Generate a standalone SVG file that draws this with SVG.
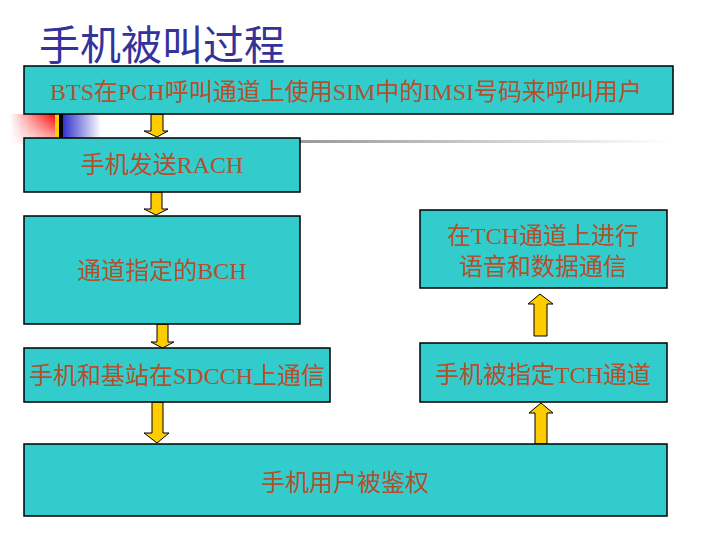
<svg xmlns="http://www.w3.org/2000/svg" width="720" height="540" viewBox="0 0 720 540">
<style>
.box{fill:#33CCCC;stroke:#000;stroke-width:1.5}
.t{font-family:"Liberation Serif","Noto Sans CJK SC",serif;font-size:24px;fill:#b4502c;text-anchor:middle}
.arr{fill:#FFCC00;stroke:#000;stroke-width:1}
.title{font-family:"Noto Sans CJK SC",sans-serif;font-size:41px;fill:#333399}
</style>
<defs>
<linearGradient id="red" x1="0" y1="0" x2="1" y2="0">
<stop offset="0" stop-color="#ff0000" stop-opacity="0"/>
<stop offset="1" stop-color="#ff0000"/>
</linearGradient>
<linearGradient id="blue" x1="0" y1="0" x2="1" y2="0">
<stop offset="0" stop-color="#3333cc"/>
<stop offset="1" stop-color="#3333cc" stop-opacity="0"/>
</linearGradient>
<linearGradient id="grey" x1="0" y1="0" x2="1" y2="0">
<stop offset="0" stop-color="#999999"/>
<stop offset="1" stop-color="#ffffff"/>
</linearGradient>
<linearGradient id="fadeV" x1="0" y1="0" x2="0" y2="1">
<stop offset="0" stop-color="#fff" stop-opacity="0"/>
<stop offset="1" stop-color="#fff" stop-opacity="0.8"/>
</linearGradient>
</defs>
<rect width="720" height="540" fill="#fff"/>
<g id="decor">
<rect x="10" y="114" width="45" height="30" fill="url(#red)"/>
<rect x="10" y="114" width="45" height="30" fill="url(#fadeV)"/>
<rect x="55" y="114" width="4" height="24" fill="#FFCC00"/>
<rect x="59" y="114" width="4" height="24" fill="#000"/>
<rect x="63" y="114" width="38" height="24" fill="url(#blue)"/>
<rect x="300" y="140" width="370" height="3" fill="url(#grey)"/>
</g>
<text class="title" x="39" y="60">手机被叫过程</text>
<g id="connectors">
<polygon class="arr" points="151,114 163,114 163,131 168,131 157,137 144,131 151,131"/>
<polygon class="arr" points="151,192 162,192 162,209 168,209 156,215 144,209 151,209"/>
<polygon class="arr" points="157,324 168,324 168,342 174,342 162.5,348 151,342 157,342"/>
<polygon class="arr" points="152,402 163,402 163,433 169,433 157,443 144,433 152,433"/>
<polygon class="arr" points="534,336 547,336 547,304 553,304 540,294 528,304 534,304"/>
<polygon class="arr" points="535,444 547,444 547,413 553,413 541,403 529,413 535,413"/>
</g>
<g id="n1"><rect class="box" x="24" y="66" width="649" height="48"/><text class="t" x="346" y="100">BTS在PCH呼叫通道上使用SIM中的IMSI号码来呼叫用户</text></g>
<g id="n2"><rect class="box" x="24" y="138" width="276" height="54"/><text class="t" x="162" y="173">手机发送RACH</text></g>
<g id="n3"><rect class="box" x="24" y="216" width="276" height="108"/><text class="t" x="162" y="279">通道指定的BCH</text></g>
<g id="n4"><rect class="box" x="24" y="348" width="306" height="54"/><text class="t" x="177" y="384">手机和基站在SDCCH上通信</text></g>
<g id="n5"><rect class="box" x="24" y="444" width="643" height="72"/><text class="t" x="345" y="491">手机用户被鉴权</text></g>
<g id="n6"><rect class="box" x="420" y="210" width="247" height="78"/><text class="t" x="543" y="244">在TCH通道上进行</text><text class="t" x="543" y="275">语音和数据通信</text></g>
<g id="n7"><rect class="box" x="420" y="343" width="247" height="59"/><text class="t" x="543" y="383">手机被指定TCH通道</text></g>
</svg>
